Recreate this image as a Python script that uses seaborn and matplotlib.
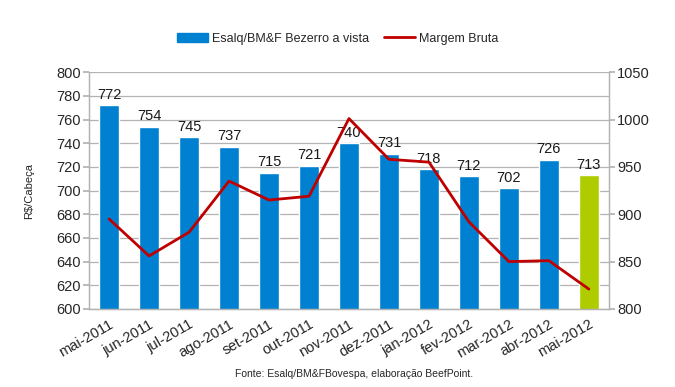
import numpy as np
import pandas as pd
import matplotlib
matplotlib.use("Agg")
import matplotlib.pyplot as plt
import seaborn as sns
from matplotlib.patches import Patch
from matplotlib.lines import Line2D

months = ["mai-2011", "jun-2011", "jul-2011", "ago-2011", "set-2011", "out-2011",
          "nov-2011", "dez-2011", "jan-2012", "fev-2012", "mar-2012", "abr-2012", "mai-2012"]
bezerro = [772, 754, 745, 737, 715, 721, 740, 731, 718, 712, 702, 726, 713]
margem = [895, 856, 881, 935, 915, 919, 1001, 958, 955, 892, 850, 851, 821]

blue = "#0080D0"
green = "#AECC00"
red = "#C00000"
grid = "#B3B3B3"

sns.set_theme(style="white")
plt.rcParams["font.family"] = ["Liberation Sans", "DejaVu Sans"]

df = pd.DataFrame({"mes": months, "valor": bezerro})
colors = [blue] * (len(months) - 1) + [green]

fig = plt.figure(figsize=(6.75, 3.87), dpi=100)
ax = fig.add_axes([0.132, 0.2016, 0.770, 0.612])

sns.barplot(data=df, x="mes", y="valor", hue="mes", palette=colors, saturation=1,
            legend=False, width=0.5, ax=ax, zorder=2)
for i, v in enumerate(bezerro):
    ax.text(i, v + 3, str(v), ha="center", va="bottom", fontsize=10.5, color="#1a1a1a", zorder=3)

ax.set_ylim(600, 800)
ax.set_yticks(range(600, 801, 20))
ax.set_xlim(-0.5, len(months) - 0.5)
ax.yaxis.grid(True, color=grid, linewidth=0.9, zorder=0)
ax.set_axisbelow(True)
ax.set_xlabel("")
ax.set_ylabel("R$/Cabeça", fontsize=8, labelpad=16)
ax.set_xticks(range(len(months)))
ax.set_xticklabels(months, rotation=30, ha="right", rotation_mode="anchor", fontsize=10.5)
ax.set_xticks(np.arange(-0.5, len(months), 1), minor=True)
ax.tick_params(axis="x", which="major", length=0, pad=6)
ax.tick_params(axis="x", which="minor", length=4, color=grid, direction="out")
ax.tick_params(axis="y", length=4, color=grid, direction="out", labelsize=10.5, pad=2)

ax2 = ax.twinx()
sns.lineplot(x=np.arange(len(months)), y=margem, ax=ax2, color=red, linewidth=2, zorder=4)
ax2.set_ylim(800, 1050)
ax2.set_yticks(range(800, 1051, 50))
ax2.tick_params(axis="y", length=4, color=grid, direction="out", labelsize=10.5, pad=2)
ax2.set_xlim(-0.5, len(months) - 0.5)

for a in (ax, ax2):
    a.spines["top"].set_visible(False)
    for s in ("left", "right", "bottom"):
        a.spines[s].set_color(grid)
        a.spines[s].set_linewidth(0.9)

handles = [Patch(color=blue, label="Esalq/BM&F Bezerro a vista"),
           Line2D([0], [0], color=red, linewidth=2, label="Margem Bruta")]
fig.legend(handles=handles, loc="center", bbox_to_anchor=(0.5, 0.9), ncol=2,
           frameon=False, fontsize=9, handlelength=2.5, columnspacing=1.2, handletextpad=0.3)

fig.text(0.525, 0.02, "Fonte: Esalq/BM&FBovespa, elaboração BeefPoint.", ha="center",
         va="bottom", fontsize=7.5)

fig.savefig("out.png", dpi=100)
